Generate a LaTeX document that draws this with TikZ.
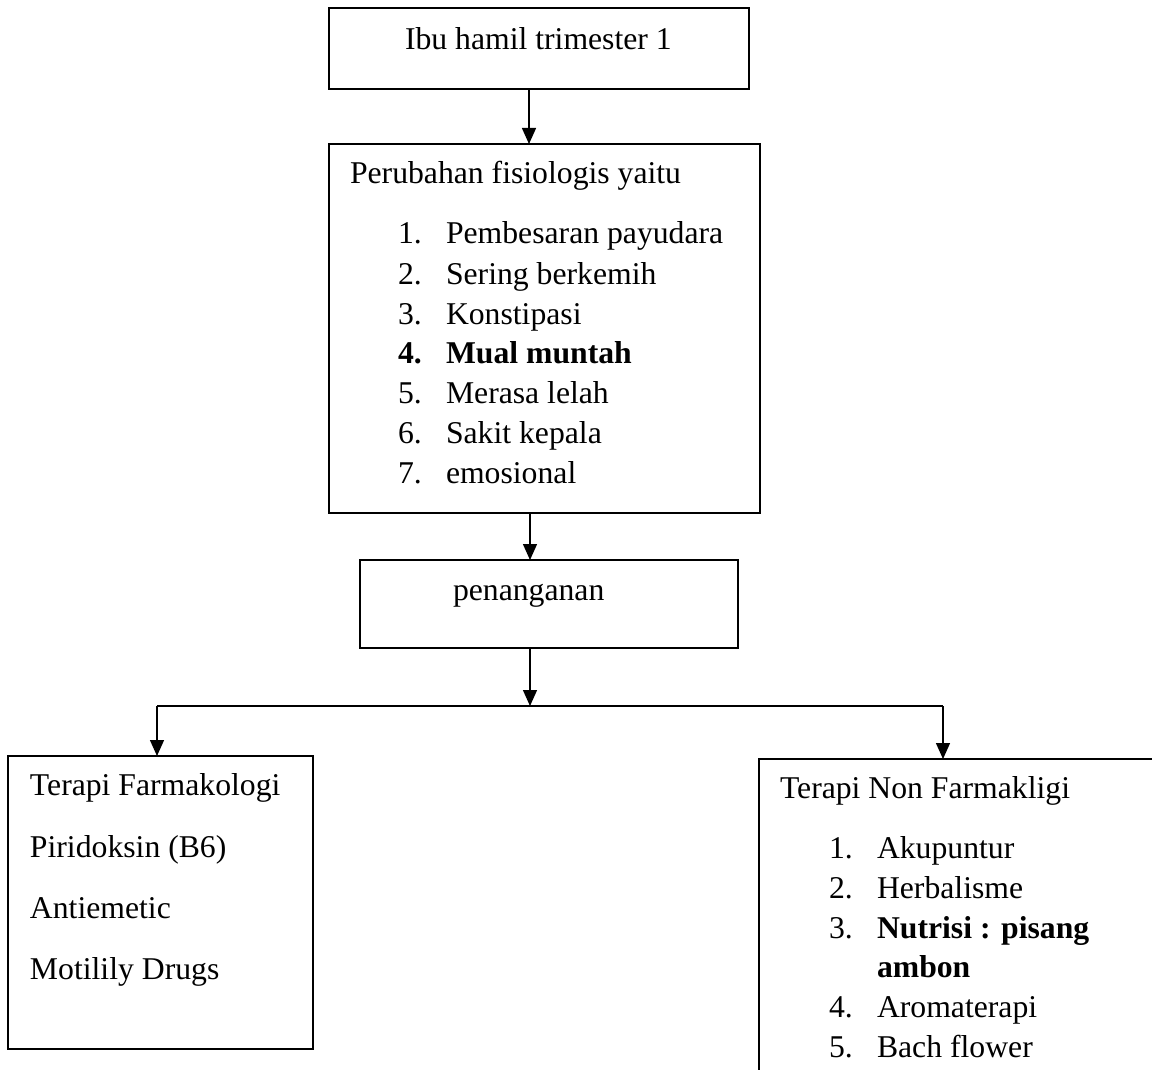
\documentclass[tikz,border=0pt]{standalone}
\usepackage{fontspec}
\setmainfont{Liberation Serif}
\usetikzlibrary{arrows.meta}
\begin{document}
\begin{tikzpicture}[x=1pt,y=-1pt,
  box/.style={draw=black,line width=1.5pt,anchor=north west,inner sep=0pt,outer sep=0pt},
  txt/.style={anchor=base west,inner sep=0pt,outer sep=0pt,font=\fontsize{31.7}{40}\selectfont},
  btxt/.style={txt,font=\fontsize{31.7}{40}\selectfont\bfseries},
  conn/.style={line width=1.4pt,-{Triangle[length=16pt,width=14pt]}},
  plain/.style={line width=1.4pt}]
\useasboundingbox (0,0) rectangle (1152,1070);
\clip (0,0) rectangle (1152,1070);
% boxes
\node[box,minimum width=420pt,minimum height=81pt] (b1) at (329,8) {};
\node[box,line width=2pt,minimum width=431pt,minimum height=369pt] (b2) at (329,144) {};
\node[box,minimum width=378pt,minimum height=88pt] (b3) at (360,560) {};
\node[box,minimum width=305pt,minimum height=293pt] (b4) at (8,756) {};
\node[box,minimum width=500pt,minimum height=400pt] (b5) at (759,759) {};
% texts
\node[txt] (t1) at (405,50) {Ibu hamil trimester 1};
\node[txt] (t2) at (350,183) {Perubahan fisiologis yaitu};
\node[txt] (n21) at (398,243) {1.};
\node[txt] (i21) at (446,243) {Pembesaran payudara};
\node[txt] (n22) at (398,284) {2.};
\node[txt] (i22) at (446,284) {Sering berkemih};
\node[txt] (n23) at (398,324) {3.};
\node[txt] (i23) at (446,324) {Konstipasi};
\node[btxt] (n24) at (398,363) {4.};
\node[btxt] (i24) at (446,363) {Mual muntah};
\node[txt] (n25) at (398,403) {5.};
\node[txt] (i25) at (446,403) {Merasa lelah};
\node[txt] (n26) at (398,443) {6.};
\node[txt] (i26) at (446,443) {Sakit kepala};
\node[txt] (n27) at (398,483) {7.};
\node[txt] (i27) at (446,483) {emosional};
\node[txt] (t3) at (453,600) {penanganan};
\node[txt] (t4a) at (30,795) {Terapi Farmakologi};
\node[txt] (t4b) at (30,857) {Piridoksin (B6)};
\node[txt] (t4c) at (30,918) {Antiemetic};
\node[txt] (t4d) at (30,979) {Motilily Drugs};
\node[txt] (t5) at (780,798) {Terapi Non Farmakligi};
\node[txt] (n51) at (829,858) {1.};
\node[txt] (i51) at (877,858) {Akupuntur};
\node[txt] (n52) at (829,898) {2.};
\node[txt] (i52) at (877,898) {Herbalisme};
\node[txt] (n53) at (829,938) {3.};
\node[btxt] (i53) at (877,938) {Nutrisi : pisang};
\node[btxt] (i53b) at (877,977) {ambon};
\node[txt] (n54) at (829,1017) {4.};
\node[txt] (i54) at (877,1017) {Aromaterapi};
\node[txt] (n55) at (829,1057) {5.};
\node[txt] (i55) at (877,1057) {Bach flower};
% connectors
\coordinate (x1) at (529,0);
\coordinate (x2) at (530,0);
\coordinate (hl) at (157,706);
\coordinate (hr) at (943,706);
\coordinate (hm) at (530,706);
\draw[conn] (b1.south -| x1) -- (b2.north -| x1);
\draw[conn] (b2.south -| x2) -- (b3.north -| x2);
\draw[conn] (b3.south -| x2) -- (hm);
\draw[plain] (hl) -- (hr);
\draw[conn] (hl) -- (hl |- b4.north);
\draw[conn] (hr) -- (hr |- b5.north);
\end{tikzpicture}
\end{document}
